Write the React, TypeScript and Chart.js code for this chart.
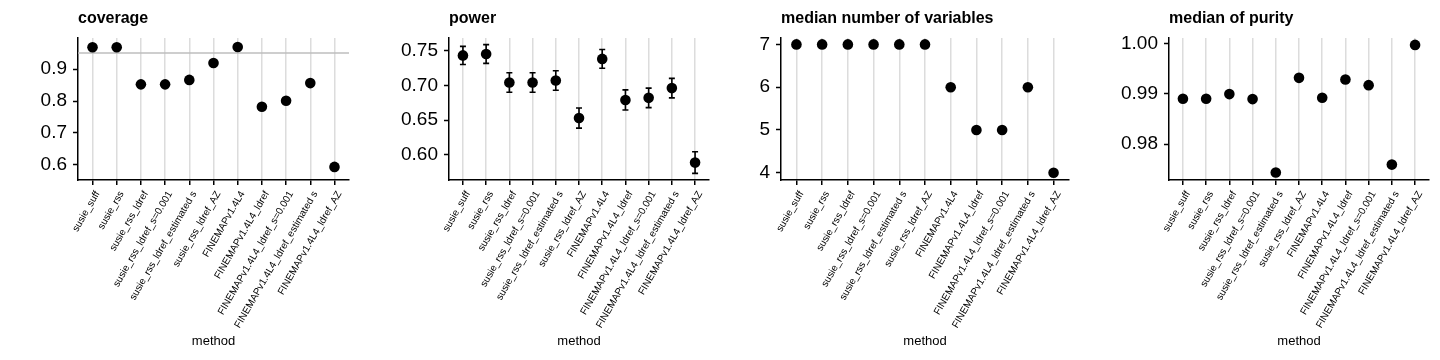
import React, { useEffect, useRef } from 'react';
import { Chart, registerables } from 'chart.js';

Chart.register(...registerables);

const methods = [
  'susie_suff',
  'susie_rss',
  'susie_rss_ldref',
  'susie_rss_ldref_s=0.001',
  'susie_rss_ldref_estimated s',
  'susie_rss_ldref_AZ',
  'FINEMAPv1.4L4',
  'FINEMAPv1.4L4_ldref',
  'FINEMAPv1.4L4_ldref_s=0.001',
  'FINEMAPv1.4L4_ldref_estimated s',
  'FINEMAPv1.4L4_ldref_AZ',
];

const coverage = [0.968, 0.968, 0.852, 0.852, 0.866, 0.919, 0.969, 0.782, 0.801, 0.856, 0.594];
const coverageTarget = 0.95;
const coverageTicks = [0.6, 0.7, 0.8, 0.9];

const power = [0.743, 0.745, 0.704, 0.704, 0.707, 0.653, 0.738, 0.679, 0.682, 0.696, 0.589];
const powerSE = [0.013, 0.0135, 0.014, 0.014, 0.014, 0.0145, 0.0135, 0.0145, 0.014, 0.014, 0.0155];
const powerTicks = [0.6, 0.65, 0.7, 0.75];

const medianVariables = [7, 7, 7, 7, 7, 7, 6, 5, 5, 6, 4];
const variablesTicks = [4, 5, 6, 7];

const medianPurity = [0.98903, 0.98903, 0.98996, 0.98897, 0.97438, 0.99319, 0.98923, 0.99287, 0.99174, 0.97596, 0.99973];
const purityTicks = [0.98, 0.99, 1.0];

const FONT = "'Liberation Sans', Arial, Helvetica, sans-serif";

type PanelProps = {
  title: string;
  values: number[];
  errors?: number[];
  hline?: number;
  yTicks: number[];
  decimals: number;
  yMin: number;
  yMax: number;
  plotLeft: number;
};

function Panel({ title, values, errors, hline, yTicks, decimals, yMin, yMax, plotLeft }: PanelProps) {
  const ref = useRef<HTMLCanvasElement | null>(null);

  useEffect(() => {
    if (!ref.current) return;

    const titlePlugin = {
      id: 'panelTitle',
      afterDraw(chart: any) {
        const ctx = chart.ctx;
        ctx.save();
        ctx.font = `bold 16px ${FONT}`;
        ctx.fillStyle = '#000';
        ctx.textAlign = 'left';
        ctx.textBaseline = 'middle';
        ctx.fillText(title, chart.chartArea.left, 19);
        ctx.restore();
      },
    };

    const refLinePlugin = {
      id: 'refLine',
      beforeDatasetsDraw(chart: any) {
        if (hline === undefined) return;
        const ctx = chart.ctx;
        const y = chart.scales.y.getPixelForValue(hline);
        ctx.save();
        ctx.strokeStyle = '#bebebe';
        ctx.lineWidth = 1.5;
        ctx.beginPath();
        ctx.moveTo(chart.chartArea.left, y);
        ctx.lineTo(chart.chartArea.right, y);
        ctx.stroke();
        ctx.restore();
      },
    };

    const errorBarPlugin = {
      id: 'errorBars',
      beforeDatasetsDraw(chart: any) {
        if (!errors) return;
        const ctx = chart.ctx;
        const xs = chart.scales.x;
        const ys = chart.scales.y;
        ctx.save();
        ctx.strokeStyle = '#000';
        ctx.lineWidth = 1.6;
        values.forEach((v, i) => {
          const x = xs.getPixelForValue(i);
          const y1 = ys.getPixelForValue(v - errors[i]);
          const y2 = ys.getPixelForValue(v + errors[i]);
          ctx.beginPath();
          ctx.moveTo(x, y1);
          ctx.lineTo(x, y2);
          ctx.moveTo(x - 3, y1);
          ctx.lineTo(x + 3, y1);
          ctx.moveTo(x - 3, y2);
          ctx.lineTo(x + 3, y2);
          ctx.stroke();
        });
        ctx.restore();
      },
    };

    const chart = new Chart(ref.current, {
      type: 'scatter',
      data: {
        datasets: [
          {
            data: values.map((v, i) => ({ x: i, y: v })),
            backgroundColor: '#000',
            borderColor: '#000',
            borderWidth: 0,
            pointRadius: 5.3,
            pointHoverRadius: 5.3,
          },
        ],
      },
      options: {
        animation: false,
        responsive: false,
        devicePixelRatio: 1,
        layout: { padding: { left: 0, right: 11, top: 38, bottom: 0 } },
        plugins: {
          legend: { display: false },
          tooltip: { enabled: false },
          title: { display: false },
        },
        scales: {
          x: {
            type: 'linear',
            min: -0.6,
            max: 10.6,
            afterBuildTicks: (axis: any) => {
              axis.ticks = methods.map((_, i) => ({ value: i }));
            },
            afterFit: (axis: any) => {
              axis.height = 180;
            },
            ticks: {
              autoSkip: false,
              maxRotation: 60,
              minRotation: 60,
              padding: 4,
              labelOffset: 5,
              color: '#000',
              font: { family: FONT, size: 10 },
              callback: (v: any) => methods[Math.round(Number(v))] ?? '',
            },
            grid: {
              display: true,
              drawOnChartArea: true,
              color: '#dcdcdc',
              lineWidth: 1.5,
              tickColor: '#000',
              tickLength: 5,
              tickWidth: 1.5,
            },
            border: { display: true, color: '#000', width: 1.5 },
            title: {
              display: true,
              text: 'method',
              color: '#000',
              font: { family: FONT, size: 13 },
              padding: { top: 0, bottom: 11 },
            },
          },
          y: {
            type: 'linear',
            min: yMin,
            max: yMax,
            afterBuildTicks: (axis: any) => {
              axis.ticks = yTicks.map((v) => ({ value: v }));
            },
            afterFit: (axis: any) => {
              axis.width = plotLeft;
            },
            ticks: {
              autoSkip: false,
              padding: 6,
              color: '#000',
              font: { family: FONT, size: 19 },
              callback: (v: any) => Number(v).toFixed(decimals),
            },
            grid: {
              display: true,
              drawOnChartArea: false,
              tickColor: '#000',
              tickLength: 5,
              tickWidth: 1.5,
            },
            border: { display: true, color: '#000', width: 1.5 },
          },
        },
      },
      plugins: [titlePlugin, refLinePlugin, errorBarPlugin],
    } as any);

    return () => chart.destroy();
  }, []);

  return (
    <div style={{ width: 360, height: 360, position: 'relative' }}>
      <canvas ref={ref} width={360} height={360} style={{ width: 360, height: 360, display: 'block' }} />
    </div>
  );
}

export default function App() {
  return (
    <div
      style={{
        position: 'absolute',
        left: 0,
        top: 0,
        width: 1440,
        height: 360,
        display: 'flex',
        background: '#fff',
      }}
    >
      <Panel title="coverage" values={coverage} hline={coverageTarget} yTicks={coverageTicks} decimals={1} yMin={0.553} yMax={0.997} plotLeft={78} />
      <Panel title="power" values={power} errors={powerSE} yTicks={powerTicks} decimals={2} yMin={0.564} yMax={0.768} plotLeft={89} />
      <Panel title="median number of variables" values={medianVariables} yTicks={variablesTicks} decimals={0} yMin={3.83} yMax={7.15} plotLeft={61} />
      <Panel title="median of purity" values={medianPurity} yTicks={purityTicks} decimals={2} yMin={0.9729} yMax={1.0011} plotLeft={89} />
    </div>
  );
}
